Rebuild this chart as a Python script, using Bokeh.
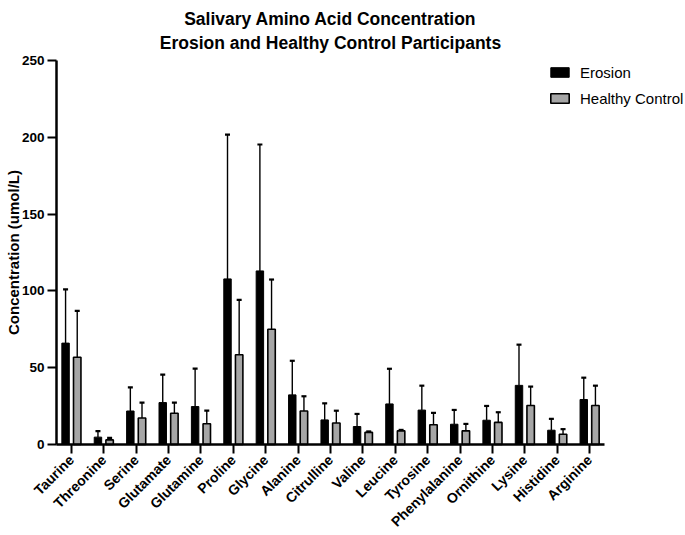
import math
from bokeh.plotting import figure
from bokeh.models import (ColumnDataSource, Range1d, Whisker, TeeHead,
                          Legend, LegendItem, Label, FixedTicker)
from bokeh.embed import file_html
from bokeh.resources import INLINE

# ---- data ----
amino_acids = ["Taurine", "Threonine", "Serine", "Glutamate", "Glutamine", "Proline",
               "Glycine", "Alanine", "Citrulline", "Valine", "Leucine", "Tyrosine",
               "Phenylalanine", "Ornithine", "Lysine", "Histidine", "Arginine"]
erosion_mean = [66.0, 4.8, 21.8, 27.3, 24.7, 107.8, 113.0, 32.3, 16.0, 11.7, 26.4,
                22.4, 13.2, 15.8, 38.5, 9.3, 29.3]
erosion_sd = [35.0, 3.9, 15.4, 18.2, 24.7, 94.0, 82.3, 22.2, 10.8, 8.2, 22.9,
              15.9, 9.3, 9.3, 26.5, 7.4, 14.2]
control_mean = [56.8, 3.0, 17.3, 20.3, 13.5, 58.4, 75.0, 21.8, 14.0, 7.9, 8.9,
                12.9, 8.9, 14.4, 25.4, 6.7, 25.4]
control_sd = [30.2, 1.3, 10.0, 7.0, 8.5, 35.8, 32.4, 9.6, 8.0, 0.6, 0.6,
              7.7, 4.5, 6.6, 12.3, 3.3, 12.9]
y_ticks = [0, 50, 100, 150, 200, 250]
series_names = ["Erosion", "Healthy Control"]
title_lines = ["Salivary Amino Acid Concentration", "Erosion and Healthy Control Participants"]
y_title = "Concentration (umol/L)"

# ---- layout constants (page pixels) ----
W, H = 685, 535
AX_L, AX_R = 56, 604      # x extent of the drawn x axis
AX_T, AX_B = 60, 444      # y extent of the drawn y axis (250 .. 0)
PAD = 0.46                # category padding at both ends of the x axis
n = len(amino_acids)
x_lo, x_hi = -PAD, n - 1 + PAD
y_max = y_ticks[-1]
sx = (AX_R - AX_L) / (x_hi - x_lo)     # px per category
sy = (AX_B - AX_T) / y_max             # px per unit
# the frame covers the whole canvas; axes are drawn at fixed locations inside it
x_start, x_end = x_lo - AX_L / sx, x_lo + (W - AX_L) / sx
y_start, y_end = -(H - AX_B) / sy, AX_B / sy

OFF = 0.18
BW = 0.23
idx = list(range(n))
src = ColumnDataSource(dict(
    xe=[i - OFF for i in idx], xc=[i + OFF for i in idx],
    e=erosion_mean, e_up=[m + s for m, s in zip(erosion_mean, erosion_sd)],
    c=control_mean, c_up=[m + s for m, s in zip(control_mean, control_sd)],
))

FONT = "Liberation Sans"

p = figure(width=W, height=H, output_backend="svg", toolbar_location=None,
           x_range=Range1d(x_start, x_end), y_range=Range1d(y_start, y_end),
           min_border_left=0, min_border_right=0, min_border_top=0, min_border_bottom=0)
p.title.visible = False
p.outline_line_color = None
p.xgrid.visible = False
p.ygrid.visible = False
p.background_fill_color = "white"
p.border_fill_color = "white"

r_e = p.vbar(x="xe", top="e", width=BW, source=src,
             fill_color="black", line_color="black", line_width=1)
r_c = p.vbar(x="xc", top="c", width=BW, source=src,
             fill_color="#a6a6a6", line_color="black", line_width=1.6)

for xcol, lo, up in [("xe", "e", "e_up"), ("xc", "c", "c_up")]:
    p.add_layout(Whisker(source=src, base=xcol, lower=lo, upper=up,
                         dimension="height", line_color="black", line_width=1.4,
                         upper_head=TeeHead(size=5, line_width=2.2, line_color="black"),
                         lower_head=None, level="glyph"))

# axes
for ax in (p.xaxis[0], p.yaxis[0]):
    ax.axis_line_width = 2.5
    ax.axis_line_color = "black"
    ax.major_tick_line_width = 2
    ax.major_tick_line_color = "black"
    ax.major_tick_in = 0
    ax.major_tick_out = 9
    ax.minor_tick_line_color = None
    ax.major_label_text_font = FONT
    ax.major_label_text_font_style = "bold"
    ax.major_label_text_color = "black"

p.yaxis.fixed_location = x_lo
p.yaxis.bounds = (0, y_max)
p.yaxis.ticker = FixedTicker(ticks=y_ticks)
p.yaxis.major_label_text_font_size = "13.5px"
p.yaxis.major_label_standoff = 3

p.xaxis.fixed_location = 0
p.xaxis.bounds = (x_lo, x_hi)
p.xaxis.ticker = FixedTicker(ticks=idx)
p.xaxis.major_label_overrides = {i: name for i, name in zip(idx, amino_acids)}
p.xaxis.major_label_text_font_size = "14px"
p.xaxis.major_label_orientation = math.pi / 4
p.xaxis.major_label_standoff = 4

# y-axis title
p.add_layout(Label(x=13, y=H - (AX_T + AX_B) / 2, x_units="screen", y_units="screen",
                   text=y_title, angle=math.pi / 2, text_align="center",
                   text_baseline="middle", text_font=FONT, text_font_style="bold",
                   text_font_size="15px", text_color="black"))

# chart title (two lines)
for txt, yy in zip(title_lines, [18.5, 42]):
    p.add_layout(Label(x=(AX_L + AX_R) / 2, y=H - yy, x_units="screen", y_units="screen",
                       text=txt, text_align="center", text_baseline="alphabetic",
                       text_font=FONT, text_font_style="bold", text_font_size="17.5px",
                       text_color="black"))

legend = Legend(items=[LegendItem(label=series_names[0], renderers=[r_e]),
                       LegendItem(label=series_names[1], renderers=[r_c])],
                location=(548, H - 107), orientation="vertical",
                glyph_width=23, glyph_height=12, label_height=18, label_standoff=9,
                spacing=8, padding=0, margin=0, border_line_color=None,
                background_fill_alpha=0,
                label_text_font=FONT, label_text_font_size="15px", label_text_color="black")
p.add_layout(legend)

open("out.html", "w").write(file_html(p, INLINE))
